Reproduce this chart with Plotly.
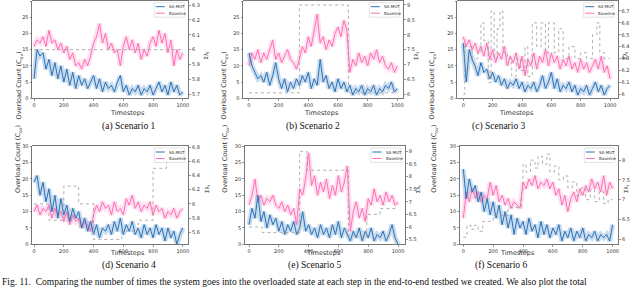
import plotly.graph_objects as go

W, H = 640, 289

# ---------------- data ----------------
steps = list(range(0, 1001, 20))

sa_a = [6, 15, 13, 14, 9, 12, 7, 11, 6, 10, 5, 9, 4, 8, 3, 7, 4, 6, 3, 5, 7, 3, 6, 2, 5, 3, 4, 2, 5, 7,
        2, 4, 1, 3, 2, 4, 1, 3, 2, 4, 1, 3, 5, 2, 4, 1, 5, 2, 4, 1, 2]
base_a = [16, 18, 17, 19, 16, 21, 17, 18, 15, 17, 14, 16, 12, 14, 10, 11, 9, 12, 10, 13, 17, 19, 23, 17, 20,
          15, 17, 14, 15, 10, 16, 19, 15, 18, 14, 17, 12, 15, 13, 17, 19, 16, 21, 17, 20, 14, 18, 10, 15, 12, 14]
dot_a_x = [0, 1000]
dot_a_y = [6.0, 6.0]

sa_b = [14, 10, 8, 6, 7, 5, 8, 4, 7, 11, 6, 3, 6, 2, 5, 3, 6, 4, 7, 5, 8, 3, 6, 4, 12,
        5, 7, 3, 5, 2, 6, 3, 5, 2, 4, 1, 3, 2, 4, 1, 3, 2, 4, 1, 3, 2, 4, 3, 5, 2, 3]
base_b = [10, 14, 12, 15, 11, 14, 12, 15, 18, 12, 14, 11, 13, 15, 12, 11, 9, 12, 16, 14, 19, 16, 21, 26, 17,
          19, 15, 18, 16, 20, 22, 19, 24, 21, 8, 12, 10, 14, 11, 13, 10, 14, 12, 15, 11, 13, 10, 9, 11, 8, 10]
dot_b_x = [0, 340, 670, 1000]
dot_b_y = [6.05, 9.0, 6.05, 6.05]

sa_c = [17, 5, 15, 12, 10, 7, 11, 8, 9, 6, 8, 5, 7, 4, 6, 3, 5, 4, 6, 3, 5, 2, 4, 3, 5,
        2, 4, 7, 3, 5, 8, 3, 6, 2, 4, 3, 5, 2, 4, 1, 3, 2, 4, 1, 3, 5, 2, 4, 1, 3, 4]
base_c = [19, 16, 18, 15, 17, 14, 16, 13, 17, 12, 15, 11, 14, 12, 16, 10, 13, 11, 14, 9, 13, 7, 12, 10, 14,
          9, 13, 11, 15, 10, 14, 11, 13, 9, 12, 10, 13, 9, 11, 8, 12, 9, 11, 8, 10, 12, 9, 13, 8, 10, 6]
dot_c_x = [0, 10, 60, 100, 120, 140, 170, 190, 210, 230, 250, 270, 300, 330, 360, 390, 420, 440,
           470, 500, 530, 560, 580, 620, 650, 680, 720, 760, 800, 840, 880, 910, 930, 960, 1000]
dot_c_y = [6.0, 6.4, 6.3, 6.35, 6.6, 6.45, 6.1, 6.7, 6.3, 6.55, 6.7, 6.35, 6.3, 6.15, 6.3, 6.2, 6.4, 6.15,
           6.6, 6.4, 6.6, 6.35, 6.6, 6.35, 6.55, 6.3, 6.4, 6.3, 6.35, 6.3, 6.5, 6.6, 6.35, 6.3, 6.3]

sa_d = [19, 21, 15, 19, 13, 17, 10, 15, 8, 14, 9, 12, 7, 11, 8, 10, 5, 8, 4, 7, 3, 6, 2, 5, 4,
        6, 3, 7, 4, 8, 3, 6, 4, 7, 3, 5, 2, 6, 3, 5, 2, 6, 3, 5, 1, 5, 2, 4, 0, 3, 5]
base_d = [10, 12, 9, 11, 10, 12, 8, 11, 9, 10, 7, 10, 6, 9, 7, 8, 5, 7, 6, 4, 9, 12, 10, 13, 11,
          12, 9, 13, 10, 11, 9, 14, 12, 15, 11, 13, 10, 12, 11, 13, 9, 12, 10, 11, 8, 10, 9, 11, 8, 10, 11]
dot_d_x = [0, 100, 200, 300, 400, 590, 700, 800, 890, 1000]
dot_d_y = [6.0, 5.77, 6.25, 6.0, 5.5, 5.62, 5.77, 6.5, 6.75, 6.75]

sa_e = [6, 11, 8, 15, 7, 10, 5, 9, 6, 8, 4, 7, 3, 6, 4, 7, 3, 5, 10, 4, 6, 3, 5, 2, 6,
        3, 5, 2, 6, 3, 7, 2, 5, 3, 1, 4, 2, 5, 1, 4, 2, 5, 1, 3, 2, 4, 1, 3, 6, 2, 0]
base_e = [12, 15, 20, 13, 15, 12, 14, 13, 15, 12, 11, 13, 10, 12, 9, 11, 6, 17, 15, 20, 28, 18, 21, 15, 19,
          16, 20, 14, 18, 15, 21, 16, 19, 24, 4, 10, 13, 8, 11, 7, 14, 12, 17, 13, 15, 12, 16, 13, 15, 12, 13]
dot_e_x = [0, 90, 340, 390, 667, 790, 880, 1000]
dot_e_y = [6.0, 5.78, 9.0, 8.25, 5.65, 6.5, 6.73, 6.73]

sa_f = [23, 14, 20, 16, 18, 13, 16, 10, 14, 9, 13, 8, 12, 6, 10, 5, 9, 3, 8, 5, 7, 3, 8, 4, 6,
        2, 7, 3, 6, 2, 5, 3, 6, 1, 4, 2, 5, 1, 4, 2, 5, 1, 3, 2, 4, 1, 3, 2, 3, 1, 6]
base_f = [8, 16, 13, 17, 14, 16, 13, 15, 14, 19, 15, 18, 13, 15, 12, 14, 11, 13, 12, 11, 19, 17, 20, 18, 21,
          17, 19, 18, 20, 17, 19, 15, 17, 12, 15, 10, 14, 16, 13, 17, 15, 18, 16, 20, 17, 19, 16, 21, 15, 19, 17]
dot_f_x = [0, 25, 50, 75, 100, 130, 200, 300, 390, 400, 420, 450, 480, 500, 530, 560, 580, 610, 640, 670,
           700, 730, 760, 790, 820, 850, 880, 910, 940, 970, 1000]
dot_f_y = [6.05, 6.35, 6.25, 6.35, 6.2, 6.45, 6.6, 6.8, 7.2, 7.9, 7.7, 8.0, 7.8, 8.1, 7.9, 8.15, 7.7, 7.85,
           7.5, 7.6, 7.3, 7.45, 7.1, 7.3, 7.0, 7.25, 6.95, 7.2, 6.9, 7.0, 7.0]

x_ticks = [0, 200, 400, 600, 800, 1000]
left_ticks = [0, 5, 10, 15, 20, 25, 30]
right_ticks_a = [5.7, 5.8, 5.9, 6.0, 6.1, 6.2, 6.3]
right_ticks_b = [6.0, 6.5, 7.0, 7.5, 8.0, 8.5, 9.0]
right_ticks_c = [6.0, 6.1, 6.2, 6.3, 6.4, 6.5, 6.6, 6.7]
right_ticks_d = [5.6, 5.8, 6.0, 6.2, 6.4, 6.6, 6.8]
right_ticks_e = [5.5, 6.0, 6.5, 7.0, 7.5, 8.0, 8.5, 9.0]
right_ticks_f = [6.0, 6.5, 7.0, 7.5, 8.0]

series_names = ["SA-MUT", "Baseline"]
captions = ["(a) Scenario 1", "(b) Scenario 2", "(c) Scenario 3",
            "(d) Scenario 4", "(e) Scenario 5", "(f) Scenario 6"]
fig_caption = ("Fig. 11.  Comparing the number of times the system goes into the overloaded state at each step "
               "in the end-to-end testbed we created. We also plot the total")

# ---------------- layout / styling ----------------
panels = [
    (sa_a, base_a, dot_a_x, dot_a_y, right_ticks_a),
    (sa_b, base_b, dot_b_x, dot_b_y, right_ticks_b),
    (sa_c, base_c, dot_c_x, dot_c_y, right_ticks_c),
    (sa_d, base_d, dot_d_x, dot_d_y, right_ticks_d),
    (sa_e, base_e, dot_e_x, dot_e_y, right_ticks_e),
    (sa_f, base_f, dot_f_x, dot_f_y, right_ticks_f),
]
# pixel geometry: left, right, top, bottom, x-range, right y-range
geom = [
    (32.3, 188.3, 1.0, 98.3, [-12, 1037], [5.673, 6.327]),
    (243.3, 403.3, 1.0, 98.3, [-38, 1040], [5.866, 9.134]),
    (457.3, 617.7, 1.0, 98.3, [-41, 1052], [5.966, 6.784]),
    (32.3, 188.3, 146.3, 244.3, [-12, 1037], [5.431, 6.81]),
    (245.0, 405.0, 146.3, 244.3, [-27, 1047], [5.317, 9.198]),
    (460.0, 618.3, 146.3, 244.3, [-22, 1038], [5.87, 8.35]),
]

BLUE = '#2a72b8'
PINK = '#ff6fb5'
BLUE_BAND = 'rgba(42,114,184,0.25)'
PINK_BAND = 'rgba(255,111,181,0.22)'
DOT = '#9a9a9a'
SPINE = '#555555'
TXT = '#333333'
FONT = 'DejaVu Sans'
SERIF = 'Liberation Serif'


def fx(x):
    return x / W


def fy(y):
    return 1 - y / H


fig = go.Figure()
layout = dict(template='none', width=W, height=H, margin=dict(l=0, r=0, t=0, b=0, pad=0),
              paper_bgcolor='white', plot_bgcolor='white', showlegend=False,
              font=dict(family=FONT, size=5, color=TXT))
shapes = []
annotations = []

axis_common = dict(showline=True, linecolor=SPINE, linewidth=0.8, ticks='outside', ticklen=2,
                   tickcolor=SPINE, tickwidth=0.6, showgrid=False, zeroline=False, automargin=False,
                   tickfont=dict(size=5, color=TXT, family=FONT))

for i, ((sa, base, dx, dy, rticks), (x0, x1, t, b, xr, rr)) in enumerate(zip(panels, geom)):
    k = i + 1
    xs = 'x' if k == 1 else f'x{k}'
    ys = 'y' if k == 1 else f'y{k}'
    yr = f'y{k + 6}'
    xkey = 'xaxis' if k == 1 else f'xaxis{k}'
    ykey = 'yaxis' if k == 1 else f'yaxis{k}'
    rkey = f'yaxis{k + 6}'

    # shaded (halo) bands
    fig.add_trace(go.Scatter(x=steps, y=base, mode='lines', xaxis=xs, yaxis=ys,
                             line=dict(color=PINK_BAND, width=5), hoverinfo='skip'))
    fig.add_trace(go.Scatter(x=steps, y=sa, mode='lines', xaxis=xs, yaxis=ys,
                             line=dict(color=BLUE_BAND, width=5), hoverinfo='skip'))
    fig.add_trace(go.Scatter(x=steps, y=base, mode='lines', name=series_names[1], xaxis=xs, yaxis=ys,
                             line=dict(color=PINK, width=1)))
    fig.add_trace(go.Scatter(x=steps, y=sa, mode='lines', name=series_names[0], xaxis=xs, yaxis=ys,
                             line=dict(color=BLUE, width=1)))
    fig.add_trace(go.Scatter(x=dx, y=dy, mode='lines', xaxis=xs, yaxis=yr, line_shape='hv',
                             line=dict(color=DOT, width=0.8, dash='dot'), hoverinfo='skip'))

    layout[xkey] = dict(domain=[fx(x0), fx(x1)], range=xr, anchor=ys, tickvals=x_ticks,
                        mirror=True, **axis_common)
    layout[ykey] = dict(domain=[fy(b), fy(t)], range=[0, 30], anchor=xs, tickvals=left_ticks,
                        **axis_common)
    layout[rkey] = dict(overlaying=ys, side='right', anchor=xs, range=rr, tickvals=rticks,
                        **axis_common)

    # axis titles
    annotations.append(dict(x=fx((x0 + x1) / 2 - 2), y=fy(b + 14.5), xref='paper', yref='paper',
                            text='Timesteps', showarrow=False, font=dict(size=6.5, color=TXT, family=FONT)))
    annotations.append(dict(x=fx(x0 - 19.5), y=fy((t + b) / 2), xref='paper', yref='paper',
                            text='Overload Count (C<sub>ov</sub>)', textangle=-90, showarrow=False,
                            font=dict(size=6.5, color=TXT, family=FONT)))
    annotations.append(dict(x=fx(x1 + 13), y=fy((t + b) / 2), xref='paper', yref='paper',
                            text='Σλ<sub>i</sub>', textangle=-90, showarrow=False,
                            font=dict(size=5.5, color=TXT, family=FONT)))
    # sub caption
    annotations.append(dict(x=fx((x0 + x1) / 2 - 10), y=fy(b + 28.5), xref='paper', yref='paper',
                            text=captions[i], showarrow=False, font=dict(size=9.5, color='#111', family=SERIF)))

    # legend (box + samples + labels)
    lr = x1 - 4
    lt = t + 1.7
    lw, lh = 30, 14.5
    shapes.append(dict(type='rect', xref='paper', yref='paper', x0=fx(lr - lw), x1=fx(lr),
                       y0=fy(lt + lh), y1=fy(lt), line=dict(color='#d0d0d0', width=0.6),
                       fillcolor='rgba(255,255,255,0.85)', layer='above'))
    for j, (col, nm) in enumerate([(BLUE, series_names[0]), (PINK, series_names[1])]):
        yy = lt + 4 + j * 6.5
        shapes.append(dict(type='line', xref='paper', yref='paper', x0=fx(lr - lw + 1.5), x1=fx(lr - lw + 10.5),
                           y0=fy(yy), y1=fy(yy), line=dict(color=col, width=1), layer='above'))
        annotations.append(dict(x=fx(lr - lw + 12.5), y=fy(yy), xref='paper', yref='paper', xanchor='left',
                                yanchor='middle', text=nm, showarrow=False,
                                font=dict(size=4, color=TXT, family=FONT)))

annotations.append(dict(x=0, y=fy(282), xref='paper', yref='paper', xanchor='left', yanchor='middle',
                        text=fig_caption, showarrow=False, font=dict(size=9.5, color='#111', family=SERIF)))

layout['shapes'] = shapes
layout['annotations'] = annotations
fig.update_layout(**layout)
fig.write_html("out.html", config={'displayModeBar': False, 'staticPlot': True},
               post_script="document.body.style.margin='0';document.body.style.padding='0';"
                           "document.body.style.overflow='hidden';")
